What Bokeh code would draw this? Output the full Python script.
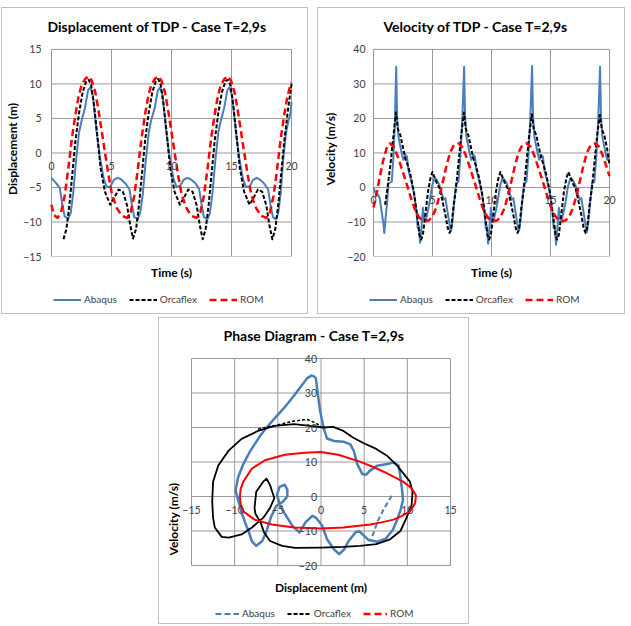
import math
from bokeh.plotting import figure
from bokeh.models import (Range1d, FixedTicker, Legend, LegendItem, Title, Spacer)
from bokeh.layouts import column, row
from bokeh.embed import file_html
from bokeh.resources import INLINE

# ---------------- ticks / labels ----------------
time_ticks = [0, 5, 10, 15, 20]
disp_ticks = [-15, -10, -5, 0, 5, 10, 15]
vel_ticks = [-20, -10, 0, 10, 20, 30, 40]
phase_x_ticks = [-15, -10, -5, 0, 5, 10, 15]
phase_y_ticks = [-20, -10, 0, 10, 20, 30, 40]
series_names = ["Abaqus", "Orcaflex", "ROM"]

# ---------------- displacement of TDP (m) ----------------
abq_disp_t = [0.0, 0.4, 0.7, 0.9, 1.1, 1.4, 1.6, 1.8, 2.05, 2.3, 2.5, 2.8, 3.05, 3.25, 3.45, 3.75, 4.05, 4.35, 4.6, 4.9, 5.2, 5.5,
              5.8, 6.2, 6.5, 6.7, 6.9, 7.2, 7.4, 7.6, 7.85, 8.1, 8.3, 8.6, 8.85, 9.05, 9.25, 9.55, 9.85, 10.15, 10.4, 10.7, 11.0, 11.3,
              11.6, 12.0, 12.3, 12.5, 12.7, 13.0, 13.2, 13.4, 13.65, 13.9, 14.1, 14.4, 14.65, 14.85, 15.05, 15.35, 15.65, 15.95, 16.2, 16.5, 16.8, 17.1,
              17.4, 17.75, 18.05, 18.25, 18.45, 18.7, 18.9, 19.1, 19.3, 19.55, 19.75, 19.9, 20.0]
abq_disp = [-3.6, -4.4, -5.1, -7.4, -9.2, -9.5, -8.7, -6.0, -1.0, 3.0, 4.6, 6.6, 9.1, 9.5, 8.3, 3.2, -0.8, -3.7, -4.9, -4.9, -3.9, -3.6,
            -3.8, -4.5, -5.3, -7.5, -9.3, -9.6, -8.6, -6.1, -1.2, 2.9, 4.7, 6.5, 9.0, 9.5, 8.4, 3.3, -0.7, -3.6, -4.9, -4.8, -3.9, -3.6,
            -3.8, -4.4, -5.2, -7.4, -9.3, -9.6, -8.7, -6.0, -1.1, 3.0, 4.6, 6.6, 9.1, 9.5, 8.3, 3.2, -0.8, -3.7, -4.9, -4.9, -3.9, -3.6,
            -3.9, -4.5, -5.3, -7.5, -9.3, -9.6, -8.6, -5.8, -1.0, 3.0, 4.7, 5.6, 7.4]

orc_disp_t = [1.0, 1.25, 1.5, 1.75, 2.0, 2.3, 2.6, 2.9, 3.1, 3.3, 3.55, 3.85, 4.1, 4.45, 4.9, 5.2, 5.6, 5.95, 6.3, 6.55,
              6.8, 7.05, 7.3, 7.55, 7.8, 8.1, 8.4, 8.7, 8.9, 9.1, 9.35, 9.65, 9.9, 10.25, 10.7, 11.0, 11.4, 11.75, 12.1, 12.35,
              12.6, 12.85, 13.1, 13.35, 13.6, 13.9, 14.2, 14.5, 14.7, 14.9, 15.15, 15.45, 15.7, 16.05, 16.5, 16.8, 17.2, 17.55, 17.9, 18.15,
              18.4, 18.65, 18.9, 19.15, 19.4, 19.7, 20.0]
orc_disp = [-12.5, -11.0, -7.4, -2.8, 1.8, 5.8, 8.8, 10.4, 10.6, 9.9, 6.9, 2.0, -2.3, -5.6, -7.5, -6.6, -5.3, -5.6, -7.6, -10.4,
            -12.4, -11.0, -7.4, -2.8, 1.8, 5.8, 8.8, 10.4, 10.7, 9.9, 6.9, 2.0, -2.3, -5.6, -7.5, -6.6, -5.3, -5.6, -7.6, -10.4,
            -12.5, -11.0, -7.4, -2.8, 1.8, 5.8, 8.8, 10.4, 10.6, 9.9, 6.9, 2.0, -2.3, -5.6, -7.5, -6.6, -5.3, -5.6, -7.6, -10.4,
            -12.5, -11.0, -7.4, -2.8, 1.8, 6.2, 10.0]

rom_disp_t = [0.0, 0.2, 0.5, 0.8, 1.1, 1.4, 1.7, 2.0, 2.25, 2.5, 2.8, 3.1, 3.35, 3.65, 3.9, 4.2, 4.5, 4.75, 5.05, 5.45, 5.85,
              6.3, 6.6, 6.9, 7.2, 7.5, 7.8, 8.05, 8.3, 8.6, 8.9, 9.15, 9.45, 9.7, 10.0, 10.3, 10.55, 10.85, 11.25, 11.65,
              12.1, 12.4, 12.7, 13.0, 13.3, 13.6, 13.85, 14.1, 14.4, 14.7, 14.95, 15.25, 15.5, 15.8, 16.1, 16.35, 16.65, 17.05, 17.45,
              17.9, 18.2, 18.5, 18.8, 19.1, 19.4, 19.65, 19.9, 20.0]
rom_disp = [-7.5, -9.0, -9.4, -8.6, -6.2, -2.3, 2.1, 5.6, 8.1, 9.8, 10.7, 11.1, 10.5, 8.8, 6.4, 3.0, -0.4, -3.2, -6.1, -8.0, -9.1,
            -9.4, -8.6, -6.2, -2.3, 2.1, 5.6, 8.1, 9.8, 10.7, 11.1, 10.5, 8.8, 6.4, 3.0, -0.4, -3.2, -6.1, -8.0, -9.1,
            -9.4, -8.6, -6.2, -2.3, 2.1, 5.6, 8.1, 9.8, 10.7, 11.1, 10.5, 8.8, 6.4, 3.0, -0.4, -3.2, -6.1, -8.0, -9.1,
            -9.4, -8.6, -6.2, -2.3, 2.1, 5.6, 8.1, 9.8, 10.2]

# ---------------- velocity of TDP (m/s) ----------------
abq_vel_t = [0.0, 0.17, 0.32, 0.52, 0.82, 0.92, 1.02, 1.15, 1.26, 1.55, 1.69, 1.82, 1.92, 2.0, 2.12, 2.34, 2.52, 2.7, 2.84, 2.96,
             3.18, 3.42, 3.62, 3.75, 3.84, 3.95, 4.08, 4.19, 4.3, 4.45, 4.74, 4.96, 5.16, 5.36, 5.58, 5.78, 5.95, 6.09, 6.29, 6.49,
             6.57, 6.71, 6.86, 7.0, 7.2, 7.36, 7.52, 7.68,
             7.76, 7.88, 8.1, 8.28, 8.46, 8.6, 8.72, 8.94, 9.18, 9.38, 9.51, 9.6, 9.71, 9.84, 9.95, 10.06, 10.21, 10.5, 10.72, 10.92,
             11.12, 11.34, 11.54, 11.71, 11.85, 12.05, 12.25, 12.33, 12.47, 12.62, 12.76, 12.96, 13.12, 13.28, 13.44,
             13.52, 13.64, 13.86, 14.04, 14.22, 14.36, 14.48, 14.7, 14.94, 15.14, 15.27, 15.36, 15.47, 15.6, 15.71, 15.82, 15.97, 16.26,
             16.48, 16.68, 16.88, 17.1, 17.3, 17.47, 17.61, 17.81, 18.01, 18.09, 18.23, 18.38, 18.52, 18.72, 18.88, 19.04, 19.2,
             19.28, 19.4, 19.62, 19.8, 19.95, 20.0]
abq_vel = [0.0, -1.6, -1.8, -3.0, -10.0, -13.2, -9.0, -4.5, 1.2, 1.7, 8.9, 19.4, 35.0, 20.4, 14.6, 10.8, 8.0, 9.4, 8.9, 5.1,
           2.2, -1.6, -6.4, -11.7, -11.2, -16.0, -11.2, -5.9, -9.3, -9.3, -4.5, 0.3, 2.7, 2.2, 0.8, -1.6, -3.5, -3.1, -7.4, -11.7,
           -12.6, -9.3, -3.5, 1.2, 1.7, 8.9, 19.4, 35.0,
           20.4, 14.6, 10.8, 8.0, 9.4, 8.9, 5.1, 2.2, -1.6, -6.4, -11.7, -11.2, -16.3, -11.2, -5.9, -9.3, -9.3, -4.5, 0.3, 2.7,
           2.2, 0.8, -1.6, -3.5, -3.1, -7.4, -11.7, -12.6, -9.3, -3.5, 1.2, 1.7, 8.9, 19.4, 35.2,
           20.4, 14.6, 10.8, 8.0, 9.4, 8.9, 5.1, 2.2, -1.6, -6.4, -11.7, -11.2, -16.6, -11.2, -5.9, -9.3, -9.3, -4.5,
           0.3, 2.7, 2.2, 0.8, -1.6, -3.5, -3.1, -7.4, -11.7, -12.9, -9.3, -3.5, 1.2, 1.7, 8.9, 19.4, 35.0,
           20.4, 14.6, 10.8, 8.0, 9.4, 9.0]

orc_vel_t = [0.98, 1.18, 1.46, 1.69, 1.9,
             2.07, 2.29, 2.52, 2.71, 2.91, 3.14, 3.42, 3.69, 3.89, 4.04, 4.19, 4.39, 4.62, 4.82, 4.99, 5.16, 5.39, 5.61, 5.8, 6.09,
             6.29, 6.45, 6.59, 6.79, 6.99, 7.21, 7.43, 7.66,
             7.83, 8.05, 8.28, 8.47, 8.67, 8.9, 9.18, 9.45, 9.65, 9.8, 9.95, 10.15, 10.38, 10.58, 10.75, 10.92, 11.15, 11.37, 11.56, 11.85,
             12.05, 12.21, 12.35, 12.55, 12.75, 12.97, 13.19, 13.42,
             13.59, 13.81, 14.04, 14.23, 14.43, 14.66, 14.94, 15.21, 15.41, 15.56, 15.71, 15.91, 16.14, 16.34, 16.51, 16.68, 16.91, 17.13,
             17.32, 17.61, 17.81, 17.97, 18.11, 18.31, 18.51, 18.73, 18.95, 19.18,
             19.35, 19.57, 19.8, 20.0]
orc_vel = [-5.0, -0.3, 7.4, 15.0, 21.7,
           16.9, 15.0, 11.2, 8.3, 6.4, 3.5, -1.2, -7.9, -13.7, -15.1, -13.7, -7.9, -1.2, 2.6, 4.5, 3.1, 1.1, -0.3, -3.2, -7.9,
           -11.7, -13.2, -11.7, -5.1, -0.3, 7.4, 15.0, 21.7,
           16.9, 15.0, 11.2, 8.3, 6.4, 3.5, -1.2, -7.9, -13.7, -15.1, -13.7, -7.9, -1.2, 2.6, 4.5, 3.1, 1.1, -0.3, -3.2, -7.9,
           -11.7, -13.2, -11.7, -5.1, -0.3, 7.4, 15.0, 21.2,
           16.9, 15.0, 11.2, 8.3, 6.4, 3.5, -1.2, -7.9, -13.7, -15.1, -13.7, -7.9, -1.2, 2.6, 4.5, 3.1, 1.1, -0.3,
           -3.2, -7.9, -11.7, -13.2, -11.7, -5.1, -0.3, 7.4, 15.0, 21.0,
           16.9, 15.0, 11.2, 6.5]

rom_vel_t = [0.0, 0.25, 0.5, 0.8, 1.1, 1.4, 1.7, 2.0, 2.3, 2.6, 2.9, 3.2, 3.5, 3.8, 4.1, 4.4, 4.7, 5.0, 5.3, 5.6, 5.9, 6.2, 6.5, 6.8,
             7.2, 7.5, 7.8, 8.1, 8.4, 8.7, 9.0, 9.3, 9.6, 9.9, 10.2, 10.5, 10.8, 11.1, 11.4, 11.7, 12.0, 12.3, 12.6,
             13.0, 13.3, 13.6, 13.9, 14.2, 14.5, 14.8, 15.1, 15.4, 15.7, 16.0, 16.3, 16.6, 16.9, 17.2, 17.5, 17.8, 18.1, 18.4,
             18.8, 19.1, 19.4, 19.7, 20.0]
rom_vel = [-5.8, -2.0, 2.5, 7.5, 11.3, 12.8, 11.8, 9.5, 6.5, 3.3, 0.0, -3.3, -6.3, -8.3, -9.5, -9.8, -9.5, -8.3, -6.0, -2.3, 2.0, 6.5, 10.2, 12.2,
           12.8, 11.8, 9.5, 6.5, 3.3, 0.0, -3.3, -6.3, -8.3, -9.5, -9.8, -9.5, -8.3, -6.0, -2.3, 2.0, 6.5, 10.2, 12.2,
           12.8, 11.8, 9.5, 6.5, 3.3, 0.0, -3.3, -6.3, -8.3, -9.5, -9.8, -9.5, -8.3, -6.0, -2.3, 2.0, 6.5, 10.2, 12.2,
           12.8, 11.8, 9.5, 6.5, 3.3]

# ---------------- phase diagram (displacement m, velocity m/s) ----------------
abq_ph_d = [-1.0, -0.6, -0.4, -0.1, 0.3, 0.7, 1.5, 2.6, 3.4, 3.8, 4.2, 4.8, 5.2, 5.7, 6.5, 7.7, 8.4, 9.0, 9.2, 9.4,
            9.5, 9.2, 8.8, 8.3, 7.5, 6.5, 5.5, 5.0, 4.4, 4.0, 3.2, 2.7, 2.1, 1.5, 0.7, 0.15, -0.6, -1.0, -1.8, -2.5,
            -3.3, -4.2, -4.8, -5.1, -4.8, -4.2, -3.9, -3.9, -4.4, -5.2, -5.8, -6.3, -6.8, -7.5, -8.0, -8.4, -8.8, -9.2, -9.6, -9.9,
            -9.6, -9.0, -8.2, -7.2, -6.5, -5.5, -4.3, -3.2, -2.2, -1.6, -1.0]
abq_ph_v = [35.2, 34.3, 30.4, 24.7, 19.9, 16.8, 16.1, 15.9, 15.1, 13.2, 9.4, 6.5, 6.3, 7.5, 8.9, 9.4, 9.9, 8.9, 5.6, 1.7,
            -1.1, -4.0, -6.9, -9.8, -12.2, -13.1, -12.6, -11.4, -10.0, -10.4, -12.9, -15.3, -16.7, -15.3, -12.4, -8.5, -6.1, -5.6, -7.5, -10.4,
            -8.5, -5.0, -2.0, 0.5, 2.8, 3.4, 2.0, 0.0, -1.5, -2.8, -6.0, -10.0, -12.9, -14.3, -13.0, -10.0, -7.5, -4.6, -1.0, 1.7,
            5.6, 9.4, 13.2, 17.0, 19.4, 22.3, 25.6, 29.0, 32.3, 34.3, 35.2]
abq_ph_start_d = [8.2, 7.3, 6.6, 6.1, 5.8]
abq_ph_start_v = [0.2, -3.5, -7.0, -10.5, -12.5]

orc_ph_d = [10.6, 10.5, 9.9, 9.2, 8.0, 6.4, 4.5, 2.6, 0.0, -3.0, -4.5, -5.9, -6.6, -7.0, -7.6, -7.7, -7.5, -6.7, -6.3, -5.9,
            -5.6, -5.4, -5.9, -6.7, -8.0, -9.2, -10.7, -11.5, -12.3, -12.5, -12.6, -12.5, -11.9, -10.7, -9.2, -7.3, -5.4, -3.1, -1.3, 0.3,
            1.4, 2.6, 3.7, 4.9, 6.4, 7.6, 8.8, 9.7, 10.3, 10.6]
orc_ph_v = [1.4, -2.4, -6.2, -10.0, -12.4, -13.8, -14.3, -14.6, -14.8, -14.9, -14.3, -12.9, -10.4, -7.5, -5.0, -3.3, 1.4, 4.3, 5.2, 3.3,
            1.0, -0.5, -3.3, -6.2, -9.0, -11.0, -11.9, -11.7, -9.0, -6.2, -1.4, 4.3, 9.0, 13.3, 16.7, 19.0, 20.5, 21.0, 20.5, 20.0,
            20.2, 19.0, 17.1, 15.5, 13.8, 11.9, 9.0, 6.2, 4.3, 1.4]
orc_ph_start_d = [-7.3, -5.3, -3.1, -1.6, -0.7, 0.0]
orc_ph_start_v = [19.5, 20.6, 21.9, 22.3, 21.4, 20.3]

rom_ph_d = [-9.4, -9.3, -9.0, -8.0, -6.5, -4.2, -1.9, 0.0, 2.0, 4.5, 6.2, 7.6, 9.5, 10.5, 11.0,
            10.9, 10.3, 9.4, 8.4, 7.0, 5.7, 2.6, 0.0, -3.1, -5.7, -7.7, -9.0, -9.3, -9.4]
rom_ph_v = [0.0, 2.2, 4.3, 8.1, 10.5, 12.1, 12.7, 12.9, 12.1, 10.1, 8.4, 6.8, 4.3, 2.4, 0.3,
            -2.0, -4.3, -5.6, -6.7, -7.5, -8.1, -9.0, -9.3, -9.0, -8.1, -6.7, -4.3, -2.2, 0.0]

# ---------------- styling ----------------
FONT = "Lato"
BLUE = "#4A7EBB"
RED = "#FF0000"
GRID = "#989898"
TXT = "#404040"
BOX = {"border": "1px solid #BFBFBF"}
STY = {
    "Abaqus": dict(line_color=BLUE, line_width=2, line_dash="solid"),
    "Orcaflex": dict(line_color="black", line_width=2, line_dash="4 2"),
    "ROM": dict(line_color=RED, line_width=2.5, line_dash="7 4"),
}
PHASE_LEG = {
    "Abaqus": dict(line_color=BLUE, line_width=2, line_dash="6 3"),
    "Orcaflex": dict(line_color="black", line_width=2, line_dash="4 2"),
    "ROM": dict(line_color=RED, line_width=2.5, line_dash="7 4"),
}


def padded(ticks, inner_px, pad_lo_px, pad_hi_px):
    lo, hi = ticks[0], ticks[-1]
    k = (hi - lo) / inner_px
    return Range1d(lo - pad_lo_px * k, hi + pad_hi_px * k)


def make_fig(w, h, xr, yr, borders, title, title_offset, title_standoff):
    l, r, t, b = borders
    p = figure(width=w, height=h, x_range=xr, y_range=yr,
               output_backend="svg", toolbar_location=None,
               min_border_left=l, min_border_right=r, min_border_top=t, min_border_bottom=b,
               background_fill_color="white", border_fill_color="white",
               outline_line_color=None, title=title)
    p.title.text_font = FONT
    p.title.text_font_size = "14px"
    p.title.text_font_style = "bold"
    p.title.text_color = "black"
    p.title.align = "left"
    p.title.offset = title_offset
    p.title.standoff = title_standoff
    p.xgrid.visible = False
    p.ygrid.visible = False
    return p


def draw_grid(p, xt, yt):
    # plot-area grid (its outer lines form the plot-area border)
    p.segment(x0=xt, y0=[yt[0]] * len(xt), x1=xt, y1=[yt[-1]] * len(xt), line_color=GRID, line_width=1)
    p.segment(x0=[xt[0]] * len(yt), y0=yt, x1=[xt[-1]] * len(yt), y1=yt, line_color=GRID, line_width=1)


def style_axis(ax, ticks, label, label_standoff, tick_standoff=8):
    ax.ticker = FixedTicker(ticks=ticks)
    ax.axis_label = label
    ax.axis_label_text_font = FONT
    ax.axis_label_text_font_size = "12px"
    ax.axis_label_text_font_style = "bold"
    ax.axis_label_text_color = "black"
    ax.axis_label_standoff = label_standoff
    ax.major_label_text_font = FONT
    ax.major_label_text_font_size = "10.5px"
    ax.major_label_text_color = TXT
    ax.major_label_standoff = tick_standoff
    ax.axis_line_color = None
    ax.major_tick_line_color = None
    ax.minor_tick_line_color = None
    ax.major_tick_out = 0
    ax.major_tick_in = 0


def side_title(text, align, standoff, valign, offset=0):
    return Title(text=text, align=align, offset=offset, standoff=standoff, vertical_align=valign,
                 text_font=FONT, text_font_size="12px", text_font_style="bold", text_color="black")


def legend_strip(w, h, styles, x, y, glyph_w):
    s = figure(width=w, height=h, x_range=Range1d(0, 1), y_range=Range1d(0, 1),
               output_backend="svg", toolbar_location=None,
               min_border_left=0, min_border_right=0, min_border_top=0, min_border_bottom=0,
               x_axis_location=None, y_axis_location=None, outline_line_color=None,
               background_fill_color="white", border_fill_color="white")
    s.xgrid.visible = False
    s.ygrid.visible = False
    items = []
    for n in series_names:
        r = s.line([2], [2], **styles[n])   # legend proxy, outside the strip's range
        items.append(LegendItem(label=n, renderers=[r]))
    lg = Legend(items=items, location=(x, y), orientation="horizontal",
                border_line_color=None, background_fill_alpha=0, padding=0, margin=0,
                spacing=12, label_standoff=3, glyph_width=glyph_w, glyph_height=11,
                label_height=11, label_text_font=FONT, label_text_font_size="10px",
                label_text_color=TXT)
    s.add_layout(lg)
    return s


def time_chart(w, borders, inner_w, yticks, ylabel, title, toff, series, ylab_standoff, tick_standoff, leg_x):
    xr = padded(time_ticks, inner_w, 8, 8)
    yr = padded(yticks, 209, 0, 8)
    p = make_fig(w, 282, xr, yr, borders, title, toff, 14)
    draw_grid(p, time_ticks, yticks)
    style_axis(p.yaxis[0], yticks, ylabel, ylab_standoff, tick_standoff)
    xa = p.xaxis[0]
    style_axis(xa, time_ticks, "", 0, 9)
    xa.fixed_location = 0
    p.add_layout(side_title("Time (s)", "center", 17, "top"), "below")
    for name, (tt, vv) in zip(series_names, series):
        p.line(tt, vv, line_join="round", **STY[name])
    strip = legend_strip(w, 23, STY, leg_x, 8, 28)
    return column(p, strip, styles=BOX)


c1 = time_chart(305, (40, 8, 31, 34), 241, disp_ticks, "Displacement (m)",
                "Displacement of TDP - Case T=2,9s", 4,
                [(abq_disp_t, abq_disp), (orc_disp_t, orc_disp), (rom_disp_t, rom_disp)], 0, 2, 10)
c2 = time_chart(306, (47, 7, 31, 34), 236, vel_ticks, "Velocity (m/s)",
                "Velocity of TDP - Case T=2,9s", 18,
                [(abq_vel_t, abq_vel), (orc_vel_t, orc_vel), (rom_vel_t, rom_vel)], 6, 0, 4)

# ---------------- phase diagram ----------------
p3 = make_fig(309, 288, padded(phase_x_ticks, 259, 9, 9), padded(phase_y_ticks, 207, 8, 8),
              (23, 9, 32, 33), "Phase Diagram - Case T=2,9s", 41, 13)
draw_grid(p3, phase_x_ticks, phase_y_ticks)
ya3 = p3.yaxis[0]
style_axis(ya3, phase_y_ticks, "", 0, 4)
ya3.fixed_location = 0
p3.add_layout(side_title("Velocity (m/s)", "left", 4, "bottom", 18), "left")
xa3 = p3.xaxis[0]
style_axis(xa3, phase_x_ticks, "", 0, 9)
xa3.fixed_location = 0
p3.add_layout(side_title("Displacement (m)", "center", 13, "top"), "below")
p3.line(abq_ph_d, abq_ph_v, line_color=BLUE, line_width=2.5, line_join="round")
p3.line(abq_ph_start_d, abq_ph_start_v, line_color=BLUE, line_width=2, line_dash="5 3")
p3.line(orc_ph_d, orc_ph_v, line_color="black", line_width=1.8, line_join="round")
p3.line(orc_ph_start_d, orc_ph_start_v, line_color="black", line_width=1.5, line_dash="3 2")
p3.line(rom_ph_d, rom_ph_v, line_color=RED, line_width=2, line_join="round")
strip3 = legend_strip(309, 17, PHASE_LEG, 33, 4, 24)
c3 = column(p3, strip3, styles=BOX)

layout = column(
    Spacer(height=7),
    row(Spacer(width=1), c1, Spacer(width=9), c2),
    Spacer(height=3),
    row(Spacer(width=158), c3),
)

open("out.html", "w").write(file_html(layout, INLINE))
